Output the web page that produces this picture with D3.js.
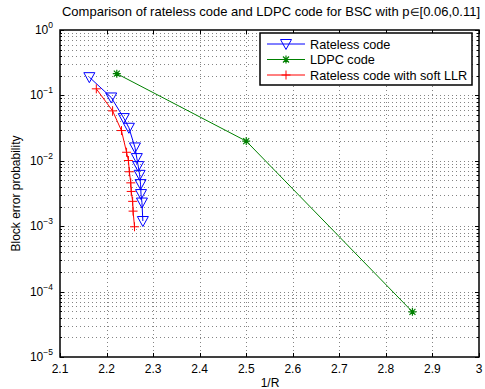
<!DOCTYPE html>
<html>
<head>
<meta charset="utf-8">
<script src="https://cdn.jsdelivr.net/npm/d3@7"></script>
<style>
  body { margin: 0; background: #fff; }
  text { font-family: "Liberation Sans", Arial, sans-serif; fill: #000; }
</style>
</head>
<body>
<svg id="chart" width="485" height="389"></svg>
<script>
// data
const ratelessX = [2.163, 2.21, 2.237, 2.248, 2.261, 2.265, 2.268, 2.271, 2.273, 2.274, 2.276, 2.278];
const ratelessY = [0.19, 0.093, 0.045, 0.032, 0.016, 0.011, 0.0083, 0.0061, 0.0044, 0.0031, 0.0023, 0.0012];
const ldpcX = [2.222, 2.5, 2.857];
const ldpcY = [0.215, 0.02, 4.9e-5];
const softX = [2.178, 2.213, 2.232, 2.243, 2.247, 2.249, 2.252, 2.253, 2.256, 2.257, 2.26];
const softY = [0.126, 0.058, 0.029, 0.0135, 0.0101, 0.0068, 0.0046, 0.0034, 0.0024, 0.0017, 0.00098];
const xTicks = [2.1, 2.2, 2.3, 2.4, 2.5, 2.6, 2.7, 2.8, 2.9, 3];
const yExponents = [0, -1, -2, -3, -4, -5];
const seriesNames = ['Rateless code', 'LDPC code', 'Rateless code with soft LLR'];
const seriesColors = ['#0000ff', '#008000', '#ff0000'];
const seriesMarkers = ['tri', 'star', 'plus'];

const plot = { left: 60, right: 479, top: 30, bottom: 357 };

const svg = d3.select('#chart');
const x = d3.scaleLinear().domain([2.1, 3]).range([plot.left, plot.right]);
const y = d3.scaleLog().domain([1e-5, 1]).range([plot.bottom, plot.top]);

// minor log ticks (2..9 x decade)
const minorY = [];
yExponents.slice(0, -1).forEach(e => {
  for (let k = 2; k <= 9; k++) minorY.push(k * Math.pow(10, e - 1));
});
const majorY = yExponents.map(e => Math.pow(10, e));

// dotted grid
const grid = svg.append('g')
  .attr('stroke', '#333')
  .attr('stroke-width', 1)
  .attr('stroke-dasharray', '1,3')
  .attr('opacity', 0.6);
grid.selectAll('.gx').data(xTicks.slice(1, -1)).enter().append('line')
  .attr('x1', d => Math.round(x(d)) + 0.5).attr('x2', d => Math.round(x(d)) + 0.5)
  .attr('y1', plot.top).attr('y2', plot.bottom);
grid.selectAll('.gy').data(majorY.slice(1, -1).concat(minorY)).enter().append('line')
  .attr('y1', d => Math.round(y(d)) + 0.5).attr('y2', d => Math.round(y(d)) + 0.5)
  .attr('x1', plot.left).attr('x2', plot.right);

// tick marks on all four sides, pointing inward
const ticks = svg.append('g').attr('stroke', '#000').attr('stroke-width', 1);
xTicks.forEach(v => {
  const px = Math.round(x(v)) + 0.5;
  ticks.append('line').attr('x1', px).attr('x2', px).attr('y1', plot.bottom).attr('y2', plot.bottom - 4);
  ticks.append('line').attr('x1', px).attr('x2', px).attr('y1', plot.top).attr('y2', plot.top + 4);
});
majorY.forEach(v => {
  const py = Math.round(y(v)) + 0.5;
  ticks.append('line').attr('y1', py).attr('y2', py).attr('x1', plot.left).attr('x2', plot.left + 4);
  ticks.append('line').attr('y1', py).attr('y2', py).attr('x1', plot.right).attr('x2', plot.right - 4);
});
minorY.forEach(v => {
  const py = Math.round(y(v)) + 0.5;
  ticks.append('line').attr('y1', py).attr('y2', py).attr('x1', plot.left).attr('x2', plot.left + 2);
  ticks.append('line').attr('y1', py).attr('y2', py).attr('x1', plot.right).attr('x2', plot.right - 2);
});

// axes box
svg.append('rect')
  .attr('x', plot.left).attr('y', plot.top)
  .attr('width', plot.right - plot.left).attr('height', plot.bottom - plot.top)
  .attr('fill', 'none').attr('stroke', '#000').attr('stroke-width', 1.5);

// tick labels
svg.selectAll('.xl').data(xTicks).enter().append('text')
  .attr('x', d => x(d)).attr('y', plot.bottom + 16)
  .attr('text-anchor', 'middle').attr('font-size', 12)
  .text(d => d3.format('.1f')(d).replace(/\.0$/, ''));

const yl = svg.selectAll('.yl').data(yExponents).enter().append('text')
  .attr('x', plot.left - 7).attr('y', d => y(Math.pow(10, d)) + 4)
  .attr('text-anchor', 'end').attr('font-size', 12);
yl.append('tspan').text('10');
yl.append('tspan').attr('dy', -6).attr('font-size', 8.5)
  .text(d => d === 0 ? '0' : '\u2212' + (-d));

// title and axis labels
const title = svg.append('text').attr('x', 271).attr('y', 16).attr('text-anchor', 'middle').attr('font-size', 13);
title.append('tspan').text('Comparison of rateless code and LDPC code for BSC with p');
title.append('tspan').attr('font-size', 10.5).text('\u2208');
title.append('tspan').text('[0.06,0.11]');
svg.append('text').attr('x', 270).attr('y', 387).attr('text-anchor', 'middle').attr('font-size', 12)
  .text('1/R');
svg.append('text').attr('transform', 'translate(20,' + (plot.top + plot.bottom) / 2 + ') rotate(-90)')
  .attr('text-anchor', 'middle').attr('font-size', 12)
  .text('Block error probability');

// markers
function drawMarker(g, kind, color, cx, cy) {
  if (kind === 'tri') {
    g.append('path').attr('d', `M${cx - 5.5},${cy - 4.5}L${cx + 5.5},${cy - 4.5}L${cx},${cy + 5.5}Z`)
      .attr('fill', 'none').attr('stroke', color).attr('stroke-width', 1);
  } else if (kind === 'plus') {
    g.append('path').attr('d', `M${cx - 4.5},${cy}H${cx + 4.5}M${cx},${cy - 4.5}V${cy + 4.5}`)
      .attr('stroke', color).attr('stroke-width', 1);
  } else {
    g.append('path').attr('d',
      `M${cx - 4},${cy}H${cx + 4}M${cx},${cy - 4}V${cy + 4}M${cx - 3},${cy - 3}L${cx + 3},${cy + 3}M${cx - 3},${cy + 3}L${cx + 3},${cy - 3}`)
      .attr('stroke', color).attr('stroke-width', 1.2);
  }
}

const series = [
  { xs: ratelessX, ys: ratelessY },
  { xs: ldpcX, ys: ldpcY },
  { xs: softX, ys: softY }
];
const line = d3.line().x(d => x(d[0])).y(d => y(d[1]));

series.forEach((s, i) => {
  const pts = s.xs.map((v, j) => [v, s.ys[j]]);
  const g = svg.append('g');
  g.append('path').datum(pts).attr('d', line)
    .attr('fill', 'none').attr('stroke', seriesColors[i]).attr('stroke-width', 1);
  pts.forEach(p => drawMarker(g, seriesMarkers[i], seriesColors[i], x(p[0]), y(p[1])));
});

// legend
const lg = svg.append('g').attr('transform', 'translate(260,33)');
lg.append('rect').attr('width', 212).attr('height', 52)
  .attr('fill', '#fff').attr('stroke', '#000').attr('stroke-width', 1.5);
seriesNames.forEach((name, i) => {
  const ry = 11 + i * 15.5;
  lg.append('line').attr('x1', 7).attr('x2', 45).attr('y1', ry).attr('y2', ry)
    .attr('stroke', seriesColors[i]).attr('stroke-width', 1);
  drawMarker(lg, seriesMarkers[i], seriesColors[i], 26, ry);
  lg.append('text').attr('x', 50).attr('y', ry + 4.5).attr('font-size', 12.7).text(name);
});
</script>
</body>
</html>
